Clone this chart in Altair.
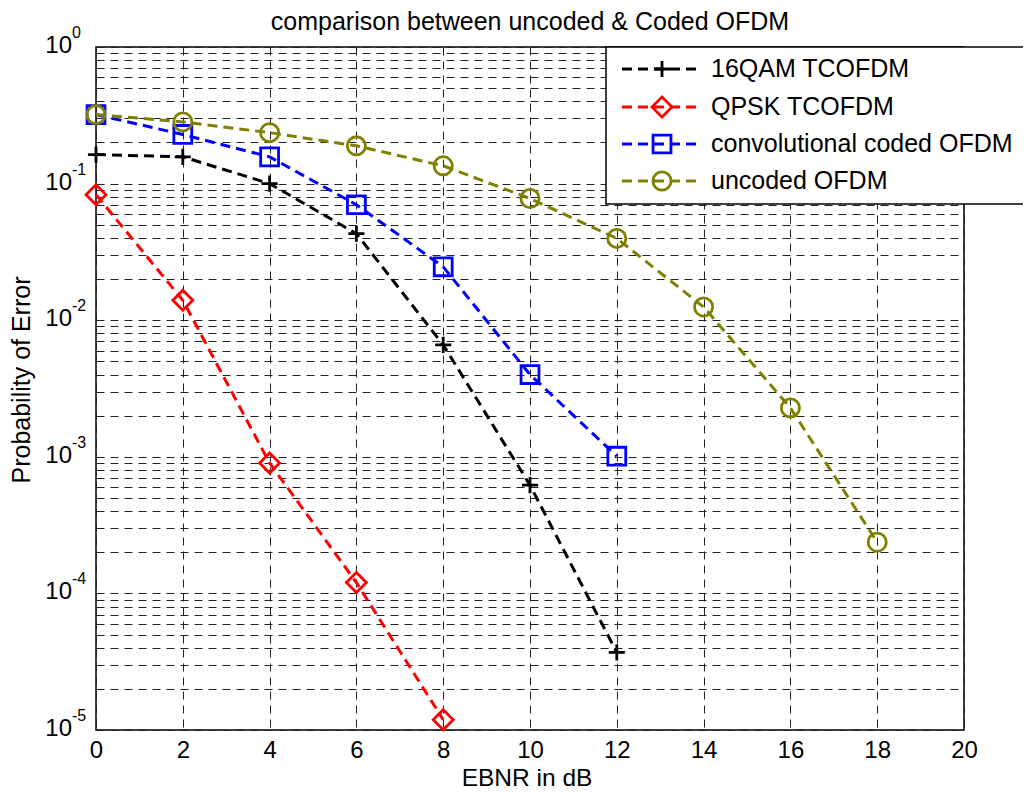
import altair as alt
import pandas as pd

# ---- data ----
series_names = ["16QAM TCOFDM", "QPSK TCOFDM", "convolutional coded OFDM", "uncoded OFDM"]
series_colors = ["#000000", "#ff0000", "#0000ff", "#808000"]

ebnr_qam16 = [0, 2, 4, 6, 8, 10, 12]
ber_qam16 = [0.163, 0.157, 0.100, 0.043, 0.0066, 0.00062, 0.000037]

ebnr_qpsk = [0, 2, 4, 6, 8]
ber_qpsk = [0.083, 0.014, 0.00090, 0.00012, 0.0000119]

ebnr_conv = [0, 2, 4, 6, 8, 10, 12]
ber_conv = [0.32, 0.229, 0.157, 0.070, 0.0246, 0.0040, 0.00101]

ebnr_unc = [0, 2, 4, 6, 8, 10, 12, 14, 16, 18]
ber_unc = [0.32, 0.283, 0.236, 0.189, 0.135, 0.0778, 0.0397, 0.0125, 0.00228, 0.000237]

x_ticks = [0, 2, 4, 6, 8, 10, 12, 14, 16, 18, 20]
decades = [1, 1e-1, 1e-2, 1e-3, 1e-4, 1e-5]
decade_exps = ["0", "-1", "-2", "-3", "-4", "-5"]
minor_mult = [1, 2, 3, 4, 5, 6, 7, 8, 9]

title_text = "comparison between uncoded & Coded OFDM"
x_title = "EBNR in dB"
y_title = "Probability of Error"

FONT = "Liberation Sans"
PLUS = "M-1,0L1,0M0,-1L0,1"
shapes = [PLUS, "diamond", "square", "circle"]
sizes = [260, 400, 320, 330]

W, H = 868, 683

y_grid_vals = sorted({round(m * d, 12) for d in decades[1:] for m in minor_mult} | {1.0})

xs = alt.Scale(domain=[0, 20], nice=False)
ys = alt.Scale(type="log", domain=[1e-5, 1], nice=False)

xaxis = alt.Axis(values=x_ticks, grid=True, gridDash=[8, 6], gridColor="#222222", gridWidth=1,
                 ticks=False, tickSize=0, domain=False, labelFont=FONT, labelFontSize=24,
                 labelColor="black", labelPadding=8, labelAngle=0, labelFlush=False,
                 labelOverlap=False, title=None)
yaxis = alt.Axis(values=y_grid_vals, grid=True, gridDash=[8, 6], gridColor="#222222", gridWidth=1,
                 ticks=False, tickSize=0, domain=False, labels=False, title=None)

X = alt.X("ebnr:Q", scale=xs, axis=xaxis)
Y = alt.Y("ber:Q", scale=ys, axis=yaxis)

all_x = [ebnr_qam16, ebnr_qpsk, ebnr_conv, ebnr_unc]
all_y = [ber_qam16, ber_qpsk, ber_conv, ber_unc]

layers = []
for name, color, shape, size, xv, yv in zip(series_names, series_colors, shapes, sizes, all_x, all_y):
    df = pd.DataFrame({"ebnr": xv, "ber": yv, "series": name})
    base = alt.Chart(df)
    layers.append(base.mark_line(color=color, strokeWidth=3, strokeDash=[10, 6]).encode(x=X, y=Y))
    layers.append(base.mark_point(shape=shape, size=size, filled=False, color=color,
                                  strokeWidth=2.8, opacity=1).encode(x=X, y=Y))

# y tick labels 10^n
lab_df = pd.DataFrame({"ebnr": [0] * len(decades), "ber": decades, "exp": decade_exps})
lab = alt.Chart(lab_df)
layers.append(lab.mark_text(text="10", align="right", baseline="middle", font=FONT, fontSize=24,
                            color="black", dy=-1).encode(x=alt.value(-24), y=Y))
layers.append(lab.mark_text(align="left", baseline="middle", font=FONT, fontSize=16,
                            color="black", dy=-14).encode(x=alt.value(-24), y=Y, text="exp:N"))

one = pd.DataFrame({"k": [0]})

# titles drawn as text marks
layers.append(alt.Chart(one).mark_text(text=title_text, align="center", baseline="alphabetic",
                                       font=FONT, fontSize=25, color="black").encode(
    x=alt.value(W / 2), y=alt.value(-17)))
layers.append(alt.Chart(one).mark_text(text=x_title, align="center", baseline="alphabetic",
                                       font=FONT, fontSize=24.5, color="black").encode(
    x=alt.value(W / 2 - 3), y=alt.value(H + 56)))
layers.append(alt.Chart(one).mark_text(text=y_title, align="center", baseline="middle", angle=270,
                                       font=FONT, fontSize=25, color="black").encode(
    x=alt.value(-74), y=alt.value(333)))

# legend
layers.append(alt.Chart(one).mark_rect(fill="white", stroke="black", strokeWidth=1.5).encode(
    x=alt.value(510), x2=alt.value(1000), y=alt.value(0), y2=alt.value(157)))
row_y = [22, 60, 97, 134]
for name, color, shape, size, ry in zip(series_names, series_colors, shapes, sizes, row_y):
    c = alt.Chart(one)
    layers.append(c.mark_rule(color=color, strokeWidth=3, strokeDash=[10, 6]).encode(
        x=alt.value(526), x2=alt.value(604), y=alt.value(ry)))
    layers.append(c.mark_point(shape=shape, size=size, filled=False, color=color,
                               strokeWidth=2.8, opacity=1).encode(x=alt.value(566), y=alt.value(ry)))
    layers.append(c.mark_text(align="left", baseline="middle", font=FONT, fontSize=25,
                              color="black", text=name).encode(x=alt.value(615), y=alt.value(ry)))

chart = alt.layer(*layers).properties(
    width=W, height=H,
    autosize=alt.AutoSizeParams(type="none"),
    padding={"left": 88, "top": 39, "right": 59, "bottom": 61},
    background="white",
).configure_view(stroke="black", strokeWidth=1.5)

chart.save("out.html", embed_options={"renderer": "svg", "actions": False})
